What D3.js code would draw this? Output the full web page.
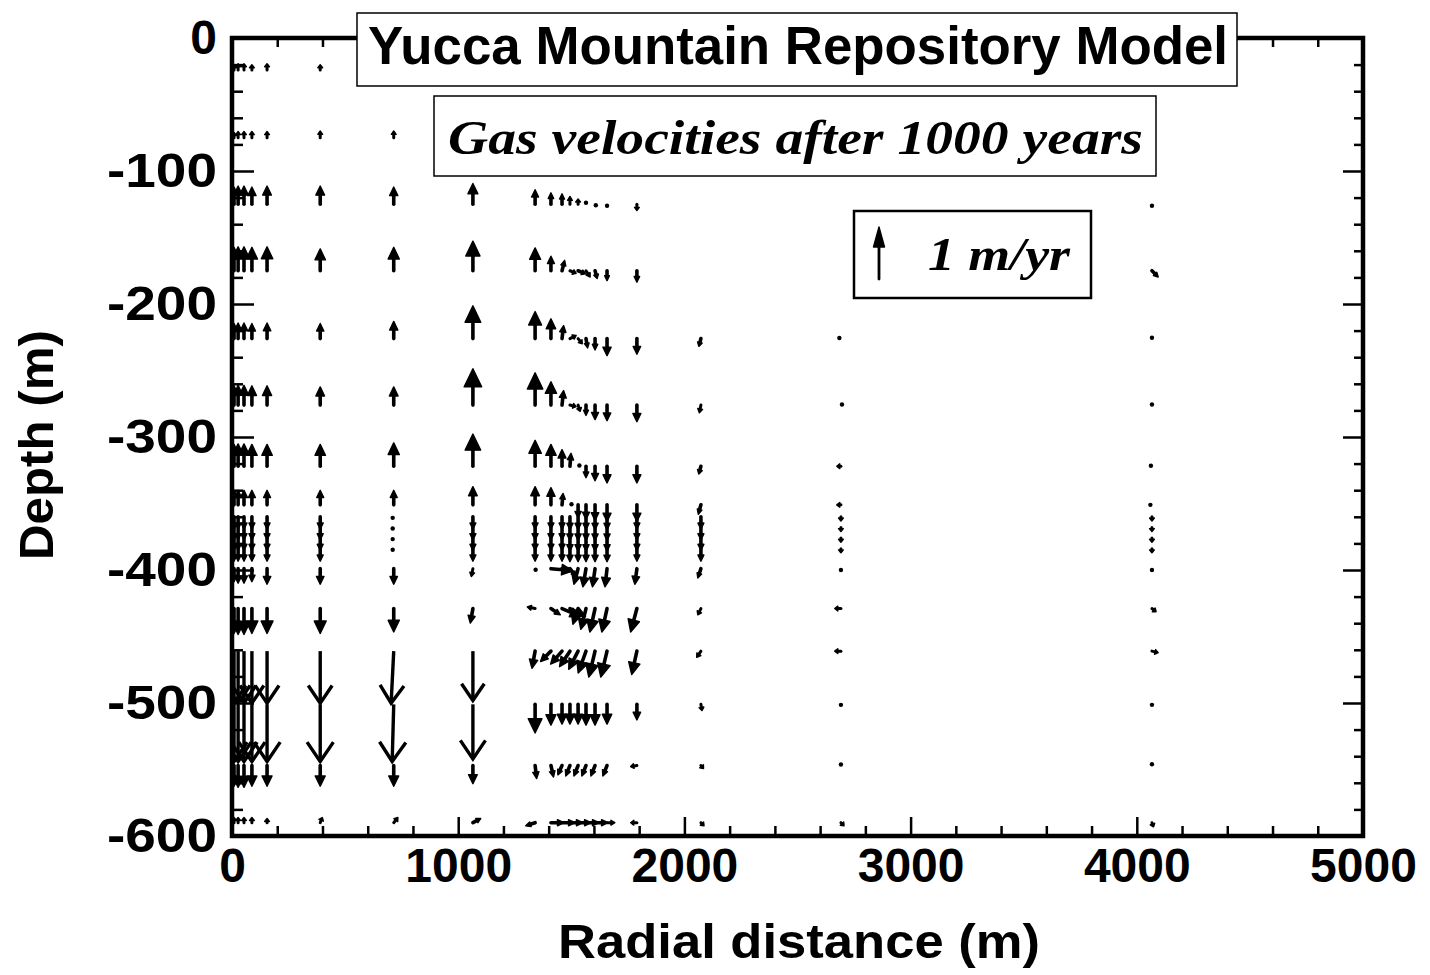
<!DOCTYPE html>
<html><head><meta charset="utf-8">
<script src="https://cdn.jsdelivr.net/npm/d3@7"></script>
<style>body{margin:0;background:#fff} svg{display:block}</style>
</head><body>
<svg id="chart" width="1430" height="975"></svg>
<script>
// ---- data ----
const radialDistances = [9, 27, 53, 88, 155, 390, 715, 1065, 1340, 1410, 1459, 1494, 1530, 1565, 1605, 1658, 1790, 2073, 2692, 4067];
const depthLevels = [24, 75, 125, 175, 226, 276, 322, 351, 360, 368, 376, 384, 399, 429, 461, 501, 547, 590];
// radial velocity component (m/yr), one row per depth level
const radialVelocity = [
  [0,0,0,0,0, 0,0,0, 0,0,0,0,0,0,0,0,0, 0,0,0],
  [0,0,0,0,0, 0,0,0, 0,0,0,0,0,0,0,0,0, 0,0,0],
  [0,0,0,0,0, 0,0,0, 0,0,0,0,0,0,0.03,0,0, 0,0,0],
  [0,0,0,0,0, 0,0,0, 0,0,0.05,0.12,0.15,0.08,0.04,0,0, 0,0,0.12],
  [0,0,0,0,0, 0,0,0, 0,0,0.03,0.12,0.08,0.03,0,0,0, -0.04,-0.06,0],
  [0,0,0,0,0, 0,0,0, 0,0,0.03,0.12,0.04,0,0,0,0, -0.03,0.04,0],
  [0,0,0,0,0, 0,0,0, 0,0,0,0.02,0.05,0,0,0,0, -0.04,-0.08,-0.04],
  [0,0,0,0,0, 0,0,0, 0,0,0.02,0.06,0,0,0,0,0, -0.05,-0.08,-0.06],
  [0,0,0,0,0, 0,-0.04,0, 0,0,0,0,0,0,0,0,0, 0,0,0],
  [0,0,0,0,0, 0,-0.04,0, 0,0,0,0,0,0,0,0,0, 0,0,0],
  [0,0,0,0,0, 0,-0.04,0, 0,0,0,0,0,0,0,0,0, 0,0,0],
  [0,0,0,0,0, 0,-0.04,0, 0,0,0,0,0,0,0,0,0, 0,0,0],
  [0,0,0,0,0, 0,0,-0.03, 0.02,0.42,0.2,0.12,-0.08,-0.06,-0.05,-0.04,-0.04, -0.06,0,0],
  [0,0,0,0,0, 0,0,-0.05, -0.15,0.18,0.35,0.3,-0.1,-0.1,-0.1,-0.1,-0.12, -0.06,-0.12,0.08],
  [0,0,0,0,0, 0,-0.05,0, -0.06,-0.2,-0.22,-0.2,-0.18,-0.15,-0.12,-0.12,-0.1, -0.08,-0.12,0.12],
  [0,0,0,0,0, 0,-0.03,0, 0,0,0,0,0,0,0,0,0, 0.02,0,0],
  [0,0,0,0,0, 0,0,0, 0.03,0.05,-0.08,-0.08,-0.08,-0.08,-0.08,-0.08,-0.12, 0.05,0,0],
  [0,0,0,0,0, 0.04,0.08,0.15, -0.18,0.25,0.25,0.25,0.25,0.25,0.25,0.15,-0.12, 0.06,0.06,0.03]
];
// vertical velocity component (m/yr, positive = upward)
const verticalVelocity = [
  [0.1,0.12,0.12,0.1,0.12, 0.1,0.04,0, 0,0,0,0,0,0,0,0,0, 0,0,0],
  [0.1,0.12,0.12,0.12,0.12, 0.13,0.13,0, 0,0,0,0,0,0,0,0,0, 0,0,0],
  [0.33,0.35,0.35,0.33,0.35, 0.35,0.33,0.4, 0.28,0.22,0.2,0.15,0.1,0.06,-0.04,-0.06,-0.12, 0,0,-0.06],
  [0.45,0.46,0.46,0.45,0.46, 0.42,0.45,0.57, 0.44,0.28,0.2,-0.05,-0.06,-0.12,-0.15,-0.19,-0.22, 0,0,-0.12],
  [0.29,0.3,0.3,0.29,0.3, 0.29,0.33,0.63, 0.52,0.38,0.25,0.06,-0.1,-0.18,-0.22,-0.33,-0.3, -0.15,0.02,0.03],
  [0.37,0.38,0.38,0.37,0.37, 0.35,0.35,0.7, 0.62,0.45,0.28,-0.03,-0.12,-0.2,-0.28,-0.3,-0.32, -0.15,0.02,0.02],
  [0.42,0.43,0.43,0.42,0.42, 0.42,0.45,0.62, 0.5,0.42,0.32,0.25,0.03,-0.22,-0.28,-0.32,-0.32, -0.15,0,0.02],
  [0.28,0.28,0.28,0.28,0.28, 0.28,0.28,0.35, 0.35,0.33,0.22,0.02,-0.25,-0.28,-0.3,-0.32,-0.32, -0.18,0,0],
  [-0.24,-0.24,-0.24,-0.24,-0.24, -0.24,-0.04,-0.24, -0.24,-0.24,-0.24,-0.25,-0.25,-0.25,-0.25,-0.25,-0.24, -0.24,-0.08,-0.08],
  [-0.24,-0.24,-0.24,-0.24,-0.24, -0.24,-0.04,-0.24, -0.24,-0.24,-0.24,-0.25,-0.25,-0.25,-0.25,-0.25,-0.24, -0.24,-0.08,-0.08],
  [-0.24,-0.24,-0.24,-0.24,-0.24, -0.24,-0.04,-0.24, -0.24,-0.24,-0.24,-0.25,-0.25,-0.25,-0.25,-0.25,-0.24, -0.24,-0.08,-0.08],
  [-0.24,-0.24,-0.24,-0.24,-0.24, -0.24,-0.04,-0.24, -0.24,-0.24,-0.24,-0.25,-0.25,-0.25,-0.25,-0.25,-0.24, -0.24,-0.08,-0.08],
  [-0.25,-0.28,-0.28,-0.25,-0.3, -0.3,-0.3,-0.15, -0.04,-0.04,-0.05,-0.15,-0.3,-0.35,-0.35,-0.35,-0.3, -0.18,-0.05,-0.05],
  [-0.48,-0.5,-0.5,-0.48,-0.48, -0.48,-0.45,-0.28, 0.03,-0.12,-0.15,-0.15,-0.3,-0.4,-0.45,-0.45,-0.45, -0.12,0,-0.06],
  [-1.0,-1.0,-1.0,-1.0,-1.0, -1.0,-1.0,-0.95, -0.33,-0.2,-0.25,-0.3,-0.35,-0.42,-0.5,-0.5,-0.45, -0.12,0,-0.03],
  [-1.1,-1.1,-1.1,-1.1,-1.1, -1.1,-1.1,-1.05, -0.55,-0.4,-0.38,-0.38,-0.38,-0.4,-0.4,-0.38,-0.3, -0.12,-0.02,-0.02],
  [-0.4,-0.42,-0.42,-0.4,-0.4, -0.4,-0.4,-0.35, -0.25,-0.22,-0.18,-0.2,-0.2,-0.2,-0.2,-0.2,-0.02, -0.06,0.04,0.05],
  [0.1,0.1,0.1,0.1,0.08, 0.1,0.1,0.08, -0.06,0,0,0,0,0,0,0,0, -0.06,-0.06,-0.08]
];
const xTickValues = [0, 1000, 2000, 3000, 4000, 5000];
const yTickValues = [0, -100, -200, -300, -400, -500, -600];
const referenceVelocity = 1; // m/yr
const titleText = "Yucca Mountain Repository Model";
const subtitleText = "Gas velocities after 1000 years";
const legendText = "1 m/yr";
const xAxisTitle = "Radial distance (m)";
const yAxisTitle = "Depth (m)";

// ---- layout ----
const svg = d3.select("#chart");
const L = 232, R = 1363, T = 38, B = 836;
const x = d3.scaleLinear().domain([0, 5000]).range([L, R]);
const y = d3.scaleLinear().domain([0, -600]).range([T, B]);
const arrowLen = d3.scaleLinear().domain([0, 1]).range([0, 52]); // px per m/yr
const SANS = "'Liberation Sans', Arial, Helvetica, sans-serif";
const SERIF = "'Liberation Serif', 'Times New Roman', serif";
const plainNum = d => String(d); // ASCII hyphen as in the original

// ---- axes ----
const minorX = d3.range(0, 5001, 200).filter(v => v % 1000 !== 0);
const minorY = d3.range(0, -601, -20).filter(v => v % 100 !== 0);

function styleAxis(g) {
  g.select(".domain").remove();
  g.selectAll(".tick line").attr("stroke", "#000").attr("stroke-width", 2.5);
  g.selectAll("text").attr("font-family", SANS).attr("font-weight", "bold")
    .attr("font-size", 48).attr("fill", "#000");
}
// bottom
svg.append("g").attr("transform", `translate(0,${B})`)
  .call(d3.axisBottom(x).tickValues(xTickValues).tickSize(-19).tickPadding(12).tickFormat(plainNum))
  .call(styleAxis);
svg.append("g").attr("transform", `translate(0,${B})`)
  .call(d3.axisBottom(x).tickValues(minorX).tickSize(-10).tickFormat(""))
  .call(styleAxis);
// top
svg.append("g").attr("transform", `translate(0,${T})`)
  .call(d3.axisTop(x).tickValues(xTickValues).tickSize(-19).tickFormat(""))
  .call(styleAxis);
svg.append("g").attr("transform", `translate(0,${T})`)
  .call(d3.axisTop(x).tickValues(minorX).tickSize(-9).tickFormat(""))
  .call(styleAxis);
// left
svg.append("g").attr("transform", `translate(${L},0)`)
  .call(d3.axisLeft(y).tickValues(yTickValues).tickSize(-22).tickPadding(15).tickFormat(plainNum))
  .call(styleAxis)
  .call(g => g.selectAll("text").filter(d => d !== 0)
    .attr("textLength", 110).attr("lengthAdjust", "spacingAndGlyphs"));
svg.append("g").attr("transform", `translate(${L},0)`)
  .call(d3.axisLeft(y).tickValues(minorY).tickSize(-11).tickFormat(""))
  .call(styleAxis);
// right
svg.append("g").attr("transform", `translate(${R},0)`)
  .call(d3.axisRight(y).tickValues(yTickValues).tickSize(-20).tickFormat(""))
  .call(styleAxis);
svg.append("g").attr("transform", `translate(${R},0)`)
  .call(d3.axisRight(y).tickValues(minorY).tickSize(-9).tickFormat(""))
  .call(styleAxis);

// ---- vectors ----
svg.append("clipPath").attr("id", "plotclip").append("rect")
  .attr("x", L).attr("y", T).attr("width", R - L).attr("height", B - T);
const field = svg.append("g").attr("clip-path", "url(#plotclip)");

const vectors = [];
depthLevels.forEach((d, i) => radialDistances.forEach((r, j) => {
  vectors.push({ r, d, u: radialVelocity[i][j], v: verticalVelocity[i][j] });
}));

function drawArrow(g, x0, y0, dx, dy, opts = {}) {
  const len = Math.hypot(dx, dy);
  if (len < 0.5) return;
  if (len < 3.5) {
    g.append("ellipse").attr("cx", x0 + dx / 2).attr("cy", y0 + dy / 2)
      .attr("rx", 2.2).attr("ry", 2.2).attr("fill", "#000");
    return;
  }
  const ux = dx / len, uy = dy / len, nx = -uy, ny = ux;
  const x1 = x0 + dx, y1 = y0 + dy;
  const open = opts.open !== undefined ? opts.open : len > 45;
  const hl = open ? 0.34 * len : (opts.hl || Math.max(0.5 * len, 3));
  const hw = open ? 0.23 * len : (opts.hw || Math.max(0.24 * len, 2.4));
  const bx = x1 - ux * hl, by = y1 - uy * hl;
  const sw = opts.sw || (len < 8 ? 3 : 3.6);
  if (open) {
    g.append("line").attr("x1", x0).attr("y1", y0).attr("x2", x1).attr("y2", y1)
      .attr("stroke", "#000").attr("stroke-width", 3.4);
    g.append("polyline")
      .attr("points", `${bx + nx * hw},${by + ny * hw} ${x1},${y1} ${bx - nx * hw},${by - ny * hw}`)
      .attr("fill", "none").attr("stroke", "#000").attr("stroke-width", 3.4).attr("stroke-linejoin", "miter");
  } else {
    g.append("line").attr("x1", x0).attr("y1", y0).attr("x2", bx + ux * 1).attr("y2", by + uy * 1)
      .attr("stroke", "#000").attr("stroke-width", sw).attr("stroke-linecap", "round");
    g.append("path")
      .attr("d", `M${x1},${y1}L${bx + nx * hw},${by + ny * hw}L${bx - nx * hw},${by - ny * hw}Z`)
      .attr("fill", "#000").attr("stroke", "#000").attr("stroke-width", 1.4).attr("stroke-linejoin", "round");
  }
}

vectors.forEach(p => {
  drawArrow(field, x(p.r), y(-p.d), arrowLen(p.u), -arrowLen(p.v));
});

// ---- frame ----
svg.append("rect").attr("x", L).attr("y", T).attr("width", R - L).attr("height", B - T)
  .attr("fill", "none").attr("stroke", "#000").attr("stroke-width", 4.5);

// ---- title boxes ----
svg.append("rect").attr("x", 357).attr("y", 13).attr("width", 880).attr("height", 73)
  .attr("fill", "#fff").attr("stroke", "#000").attr("stroke-width", 1.5);
svg.append("text").attr("x", 368).attr("y", 64).text(titleText)
  .attr("font-family", SANS).attr("font-weight", "bold").attr("font-size", 53)
  .attr("textLength", 860).attr("lengthAdjust", "spacingAndGlyphs");

svg.append("rect").attr("x", 434).attr("y", 96).attr("width", 722).attr("height", 80)
  .attr("fill", "#fff").attr("stroke", "#000").attr("stroke-width", 1.5);
svg.append("text").attr("x", 448).attr("y", 154).text(subtitleText)
  .attr("font-family", SERIF).attr("font-weight", "bold").attr("font-style", "italic")
  .attr("font-size", 48).attr("textLength", 695).attr("lengthAdjust", "spacingAndGlyphs");

// ---- legend ----
svg.append("rect").attr("x", 854).attr("y", 211).attr("width", 237).attr("height", 87)
  .attr("fill", "#fff").attr("stroke", "#000").attr("stroke-width", 2.5);
drawArrow(svg, 879, 279, 0, -arrowLen(referenceVelocity), { open: false, hl: 20, hw: 5.5, sw: 2.8 });
svg.append("text").attr("x", 928).attr("y", 270).text(legendText)
  .attr("font-family", SERIF).attr("font-weight", "bold").attr("font-style", "italic")
  .attr("font-size", 46).attr("textLength", 142).attr("lengthAdjust", "spacingAndGlyphs");

// ---- axis titles ----
svg.append("text").attr("x", 799).attr("y", 958).attr("text-anchor", "middle").text(xAxisTitle)
  .attr("font-family", SANS).attr("font-weight", "bold").attr("font-size", 48)
  .attr("textLength", 482).attr("lengthAdjust", "spacingAndGlyphs");
svg.append("text").attr("transform", "translate(53,445) rotate(-90)").attr("text-anchor", "middle")
  .text(yAxisTitle)
  .attr("font-family", SANS).attr("font-weight", "bold").attr("font-size", 48)
  .attr("textLength", 230).attr("lengthAdjust", "spacingAndGlyphs");
</script>
</body></html>
